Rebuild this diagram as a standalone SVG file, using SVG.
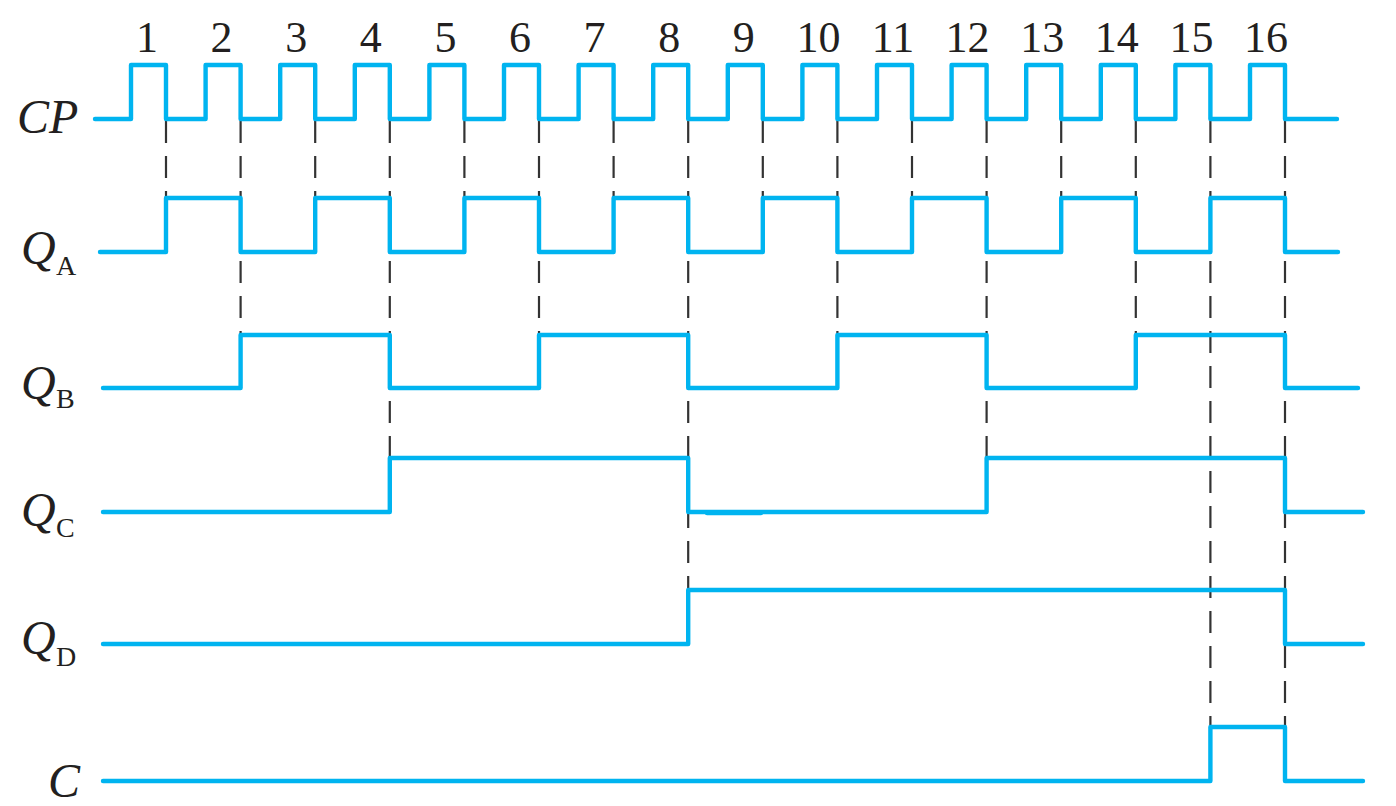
<svg xmlns="http://www.w3.org/2000/svg" width="1396" height="806" viewBox="0 0 1396 806">
<style>
.w{fill:none;stroke:#00B4F0;stroke-width:4.4;stroke-linejoin:round;stroke-linecap:round}
.d{stroke:#333;stroke-width:2.2;stroke-dasharray:22 13}
.n{font-family:"Liberation Serif",serif;font-size:44px;fill:#231F20;text-anchor:middle}
.l{font-family:"Liberation Serif",serif;font-size:48px;font-style:italic;fill:#231F20}
.s{font-family:"Liberation Serif",serif;font-size:28px;fill:#231F20}
</style>
<rect width="1396" height="806" fill="#fff"/>
<g id="connectors">
<line class="d" x1="166" y1="121" x2="166" y2="198"/>
<line class="d" x1="240.6" y1="121" x2="240.6" y2="335"/>
<line class="d" x1="315.2" y1="121" x2="315.2" y2="198"/>
<line class="d" x1="389.8" y1="121" x2="389.8" y2="458"/>
<line class="d" x1="464.4" y1="121" x2="464.4" y2="198"/>
<line class="d" x1="539" y1="121" x2="539" y2="335"/>
<line class="d" x1="613.6" y1="121" x2="613.6" y2="198"/>
<line class="d" x1="688.2" y1="121" x2="688.2" y2="590"/>
<line class="d" x1="762.8" y1="121" x2="762.8" y2="198"/>
<line class="d" x1="837.4" y1="121" x2="837.4" y2="335"/>
<line class="d" x1="912" y1="121" x2="912" y2="198"/>
<line class="d" x1="986.6" y1="121" x2="986.6" y2="458"/>
<line class="d" x1="1061.2" y1="121" x2="1061.2" y2="198"/>
<line class="d" x1="1135.8" y1="121" x2="1135.8" y2="335"/>
<line class="d" x1="1210.4" y1="121" x2="1210.4" y2="727"/>
<line class="d" x1="1285" y1="121" x2="1285" y2="727"/>
</g>
<g id="numbers">
<text class="n" x="147" y="52">1</text>
<text class="n" x="221.6" y="52">2</text>
<text class="n" x="296.2" y="52">3</text>
<text class="n" x="370.8" y="52">4</text>
<text class="n" x="445.4" y="52">5</text>
<text class="n" x="520" y="52">6</text>
<text class="n" x="594.6" y="52">7</text>
<text class="n" x="669.2" y="52">8</text>
<text class="n" x="743.8" y="52">9</text>
<text class="n" x="818.4" y="52">10</text>
<text class="n" x="893" y="52">11</text>
<text class="n" x="967.6" y="52">12</text>
<text class="n" x="1042.2" y="52">13</text>
<text class="n" x="1116.8" y="52">14</text>
<text class="n" x="1191.4" y="52">15</text>
<text class="n" x="1266" y="52">16</text>
</g>
<g id="CP">
<text class="l" x="17" y="133">CP</text>
<path class="w" d="M95,119 H131 V65 H166 V119 H205.6 V65 H240.6 V119 H280.2 V65 H315.2 V119 H354.8 V65 H389.8 V119 H429.4 V65 H464.4 V119 H504 V65 H539 V119 H578.6 V65 H613.6 V119 H653.2 V65 H688.2 V119 H727.8 V65 H762.8 V119 H802.4 V65 H837.4 V119 H877 V65 H912 V119 H951.6 V65 H986.6 V119 H1026.2 V65 H1061.2 V119 H1100.8 V65 H1135.8 V119 H1175.4 V65 H1210.4 V119 H1250 V65 H1285 V119 H1337"/>
</g>
<g id="QA">
<text class="l" x="21" y="264">Q</text><text class="s" x="56" y="275">A</text>
<path class="w" d="M100,252 H166 V198 H240.6 V252 H315.2 V198 H389.8 V252 H464.4 V198 H539 V252 H613.6 V198 H688.2 V252 H762.8 V198 H837.4 V252 H912 V198 H986.6 V252 H1061.2 V198 H1135.8 V252 H1210.4 V198 H1285 V252 H1338"/>
</g>
<g id="QB">
<text class="l" x="21" y="399">Q</text><text class="s" x="56" y="408">B</text>
<path class="w" d="M103,388 H240.6 V335 H389.8 V388 H539 V335 H688.2 V388 H837.4 V335 H986.6 V388 H1135.8 V335 H1285 V388 H1358"/>
</g>
<g id="QC">
<text class="l" x="21" y="526">Q</text><text class="s" x="56" y="537">C</text>
<path class="w" d="M103,512 H389.8 V458 H688.2 V512 H986.6 V458 H1285 V512 H1363"/>
<path class="w" d="M707,513 H761"/>
</g>
<g id="QD">
<text class="l" x="21" y="654">Q</text><text class="s" x="56" y="666">D</text>
<path class="w" d="M103,644 H688.2 V590 H1285 V644 H1363"/>
</g>
<g id="C">
<text class="l" x="48" y="797">C</text>
<path class="w" d="M103,781 H1210.4 V727 H1285 V781 H1363"/>
</g>
</svg>
